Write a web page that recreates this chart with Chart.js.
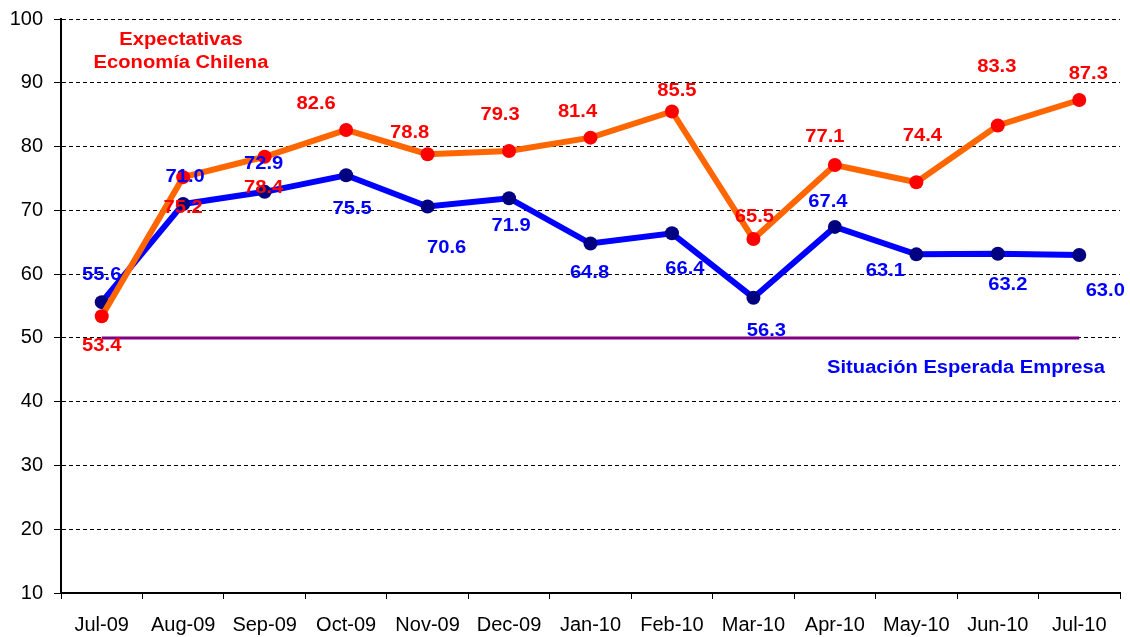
<!DOCTYPE html>
<html>
<head>
<meta charset="utf-8">
<script src="https://cdn.jsdelivr.net/npm/chart.js@4/dist/chart.umd.min.js"></script>
<style>
  html, body { margin: 0; padding: 0; background: #fff; }
  #wrap { width: 1130px; height: 637px; }
</style>
</head>
<body>
<div id="wrap"><canvas id="c" width="1130" height="637"></canvas></div>
<script>
const categories = ["Jul-09","Aug-09","Sep-09","Oct-09","Nov-09","Dec-09","Jan-10","Feb-10","Mar-10","Apr-10","May-10","Jun-10","Jul-10"];
const economiaChilena = [53.4, 75.2, 78.4, 82.6, 78.8, 79.3, 81.4, 85.5, 65.5, 77.1, 74.4, 83.3, 87.3];
const situacionEmpresa = [55.6, 71.0, 72.9, 75.5, 70.6, 71.9, 64.8, 66.4, 56.3, 67.4, 63.1, 63.2, 63.0];
const neutralLine = [50, 50, 50, 50, 50, 50, 50, 50, 50, 50, 50, 50, 50];
const yTicks = [10, 20, 30, 40, 50, 60, 70, 80, 90, 100];

// label offsets (dx, dy) relative to each point, in px
const economiaLabelOffsets = [[0,30],[0,31],[-1,31],[-30,-26],[-18,-21],[-9,-36],[-13,-26],[5,-20],[1,-22],[-10,-28],[6,-46],[-1,-58],[9,-26]];
const empresaLabelOffsets = [[0,-27],[2,-27],[-1,-28],[6,34],[19,42],[2,28],[-1,30],[13,36],[13,33],[-7,-25],[-31,17],[10,31],[26,36]];

const FONT = "'Liberation Sans', Arial, sans-serif";
const STRETCH = 1.12;

function stretchedText(ctx, text, x, y) {
  ctx.save();
  ctx.translate(x, y);
  ctx.scale(STRETCH, 1);
  ctx.fillText(text, 0, 0);
  ctx.restore();
}

const labelPlugin = {
  id: 'valueLabels',
  afterDatasetsDraw(chart) {
    const ctx = chart.ctx;
    ctx.save();
    ctx.font = "bold 18px " + FONT;
    ctx.textAlign = 'center';
    ctx.textBaseline = 'middle';
    chart.data.datasets.forEach((ds, di) => {
      if (!ds.labelOffsets) return;
      const meta = chart.getDatasetMeta(di);
      ctx.fillStyle = ds.labelColor;
      meta.data.forEach((pt, i) => {
        const off = ds.labelOffsets[i];
        stretchedText(ctx, ds.data[i].toFixed(1), pt.x + off[0], pt.y + off[1]);
      });
    });
    ctx.fillStyle = '#FF0000';
    stretchedText(ctx, "Expectativas", 181, 40);
    stretchedText(ctx, "Economía Chilena", 181, 63);
    ctx.fillStyle = '#0000FF';
    stretchedText(ctx, "Situación Esperada Empresa", 966, 368);
    ctx.restore();
  }
};

new Chart(document.getElementById('c'), {
  type: 'line',
  data: {
    labels: categories,
    datasets: [
      {
        label: 'Expectativas Economía Chilena',
        data: economiaChilena,
        borderColor: '#FF6600',
        borderWidth: 6,
        pointBackgroundColor: '#FF0000',
        pointBorderColor: '#FF0000',
        pointRadius: 7,
        pointBorderWidth: 0,
        tension: 0,
        order: 0,
        labelColor: '#FF0000',
        labelOffsets: economiaLabelOffsets
      },
      {
        label: 'Situación Esperada Empresa',
        data: situacionEmpresa,
        borderColor: '#0000FF',
        borderWidth: 6,
        pointBackgroundColor: '#000080',
        pointBorderColor: '#000080',
        pointRadius: 7,
        pointBorderWidth: 0,
        tension: 0,
        order: 1,
        labelColor: '#0000FF',
        labelOffsets: empresaLabelOffsets
      },
      {
        label: 'Neutral',
        data: neutralLine,
        borderColor: '#800080',
        borderWidth: 3,
        pointRadius: 0,
        tension: 0,
        order: 2
      }
    ]
  },
  options: {
    responsive: false,
    animation: false,
    events: [],
    layout: { padding: { top: 17, right: 10, left: 0, bottom: 0 } },
    plugins: {
      legend: { display: false },
      tooltip: { enabled: false },
      title: { display: false }
    },
    scales: {
      x: {
        offset: true,
        grid: {
          offset: true,
          drawOnChartArea: false,
          drawTicks: true,
          tickLength: 6,
          tickColor: '#000',
          tickWidth: 1
        },
        border: { display: true, color: '#000', width: 2 },
        ticks: {
          color: '#000',
          font: { family: FONT, size: 20, lineHeight: 1 },
          padding: 16,
          maxRotation: 0,
          autoSkip: false
        },
        afterFit(scale) { scale.height = 44; }
      },
      y: {
        min: 10,
        max: 100,
        afterBuildTicks(scale) { scale.ticks = yTicks.map(v => ({ value: v })); },
        grid: {
          color: '#000',
          lineWidth: 1,
          drawTicks: true,
          tickLength: 7,
          tickColor: '#000',
          tickBorderDash: []
        },
        border: { display: true, color: '#000', width: 2, dash: [4, 3] },
        ticks: {
          color: '#000',
          font: { family: FONT, size: 20, lineHeight: 0.8 },
          padding: 11
        },
        afterFit(scale) { scale.width = 61; }
      }
    }
  },
  plugins: [labelPlugin]
});
</script>
</body>
</html>
